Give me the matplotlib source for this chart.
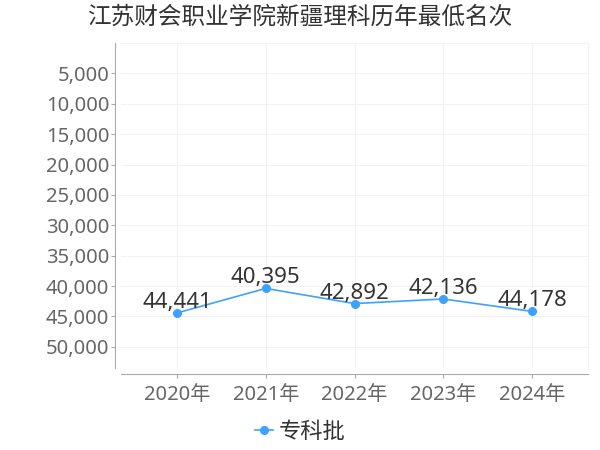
import matplotlib
matplotlib.use('Agg')
import matplotlib.pyplot as plt
from matplotlib.ticker import FuncFormatter, FixedLocator

plt.rcParams['font.family'] = ['Noto Sans', 'Noto Sans CJK SC', 'DejaVu Sans']

title = '江苏财会职业学院新疆理科历年最低名次'
years = ['2020年', '2021年', '2022年', '2023年', '2024年']
ranks = [44441, 40395, 42892, 42136, 44178]
series_name = '专科批'
y_ticks = [5000, 10000, 15000, 20000, 25000, 30000, 35000, 40000, 45000, 50000]

line_color = '#3fa1ff'

fig = plt.figure(figsize=(6, 4.5), dpi=100)
ax = fig.add_axes([0.2017, 0.1822, 0.7783, 0.7222])

x = list(range(len(years)))
ax.plot(x, ranks, color=line_color, lw=1.2, marker='o', ms=5.5, label=series_name)
for xi, v in zip(x, ranks):
    ax.annotate(f'{v:,}', (xi, v), xytext=(0, 0), textcoords='offset points',
                ha='center', va='bottom', fontsize=16, color='#333333')

ax.set_xlim(-0.63, 4.63)
ax.set_ylim(53500, 0)
ax.yaxis.set_major_locator(FixedLocator(y_ticks))
ax.yaxis.set_major_formatter(FuncFormatter(lambda v, p: f'{int(v):,}'))
ax.set_xticks(x)
ax.set_xticklabels(years)

ax.grid(True, color='#f2f2f2', lw=0.8)
ax.set_axisbelow(True)
for s in ['top', 'right']:
    ax.spines[s].set_color('#f2f2f2')
for s in ['left', 'bottom']:
    ax.spines[s].set_color('#aaaaaa')
    ax.spines[s].set_position(('outward', 4))
ax.tick_params(axis='both', colors='#aaaaaa', labelcolor='#666666', labelsize=14.5, length=3)
ax.tick_params(axis='y', pad=1.5)
ax.tick_params(axis='x', pad=5)

fig.text(0.5, 0.96, title, ha='center', va='center', fontsize=17, color='#333333')

fig.legend(loc='center', bbox_to_anchor=(0.5, 0.04), frameon=False, fontsize=16,
           handlelength=0.8, handletextpad=0.25, labelcolor='#333333')

fig.savefig('out.png', dpi=100)
